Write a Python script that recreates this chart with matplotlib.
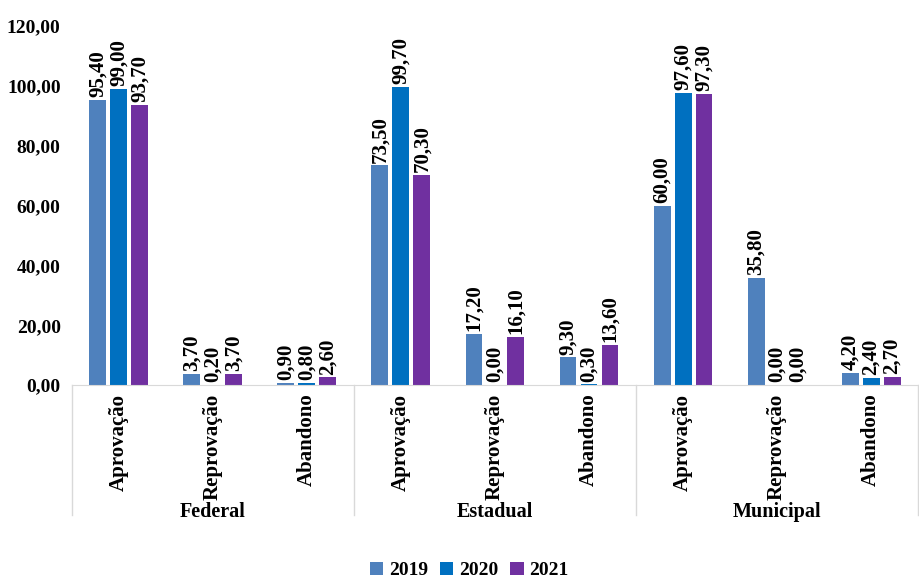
import numpy as np
import matplotlib.pyplot as plt

plt.rcParams['font.family'] = ['Liberation Serif', 'DejaVu Serif']
plt.rcParams['font.weight'] = 'bold'

# -----------------------------
# DADOS
# -----------------------------
grupos = ["Federal", "Estadual", "Municipal"]
categorias = ["Aprovação", "Reprovação", "Abandono"]
anos = ["2019", "2020", "2021"]

v2019 = [95.40, 3.70, 0.90, 73.50, 17.20, 9.30, 60.00, 35.80, 4.20]
v2020 = [99.00, 0.20, 0.80, 99.70, 0.00, 0.30, 97.60, 0.00, 2.40]
v2021 = [93.70, 3.70, 2.60, 70.30, 16.10, 13.60, 97.30, 0.00, 2.70]

cores = ["#4F81BD", "#0070C0", "#7030A0"]

# -----------------------------
# GRÁFICO
# -----------------------------
fig = plt.figure(figsize=(9.2, 5.81), dpi=100)
ax = fig.add_axes([0.078, 0.337, 0.920, 0.618])

x = np.arange(len(v2019))
largura = 0.18
passo = 0.223

for i, (serie, cor, ano) in enumerate(zip([v2019, v2020, v2021], cores, anos)):
    pos = x + (i - 1) * passo
    ax.bar(pos, serie, width=largura, color=cor, label=ano)
    for xp, v in zip(pos, serie):
        ax.annotate(f"{v:.2f}".replace(".", ","), (xp, v), xytext=(0, 2),
                    textcoords="offset points", rotation=90, ha="center",
                    va="bottom", fontsize=15, fontweight="bold")

ax.set_xlim(-0.5, len(x) - 0.5)
ax.set_ylim(0, 120)
ax.set_yticks(np.arange(0, 121, 20))
ax.set_yticklabels([f"{t:.2f}".replace(".", ",") for t in np.arange(0, 121, 20)],
                   fontsize=14, fontweight="bold")
ax.tick_params(axis="both", length=0)
ax.tick_params(axis="y", pad=8)
ax.tick_params(axis="x", pad=6)

ax.set_xticks(x)
ax.set_xticklabels(categorias * 3, rotation=90, fontsize=15, fontweight="bold")

for lado in ["top", "right", "left"]:
    ax.spines[lado].set_visible(False)
ax.spines["bottom"].set_color("#D9D9D9")

# linhas separadoras dos grupos
for s in [-0.5, 2.5, 5.5, 8.5]:
    ax.plot([s, s], [0, -0.362], transform=ax.get_xaxis_transform(),
            color="#D9D9D9", lw=1, clip_on=False)

for g, nome in enumerate(grupos):
    ax.text(g * 3 + 1, -0.366, nome, transform=ax.get_xaxis_transform(),
            ha="center", va="baseline", fontsize=14.5, fontweight="bold")

ax.legend(loc="center", bbox_to_anchor=(0.51, 0.018), bbox_transform=fig.transFigure,
          ncol=3, frameon=False, fontsize=14, handlelength=0.7, handleheight=0.7,
          handletextpad=0.3, columnspacing=0.6)

fig.savefig("out.png", dpi=100)
